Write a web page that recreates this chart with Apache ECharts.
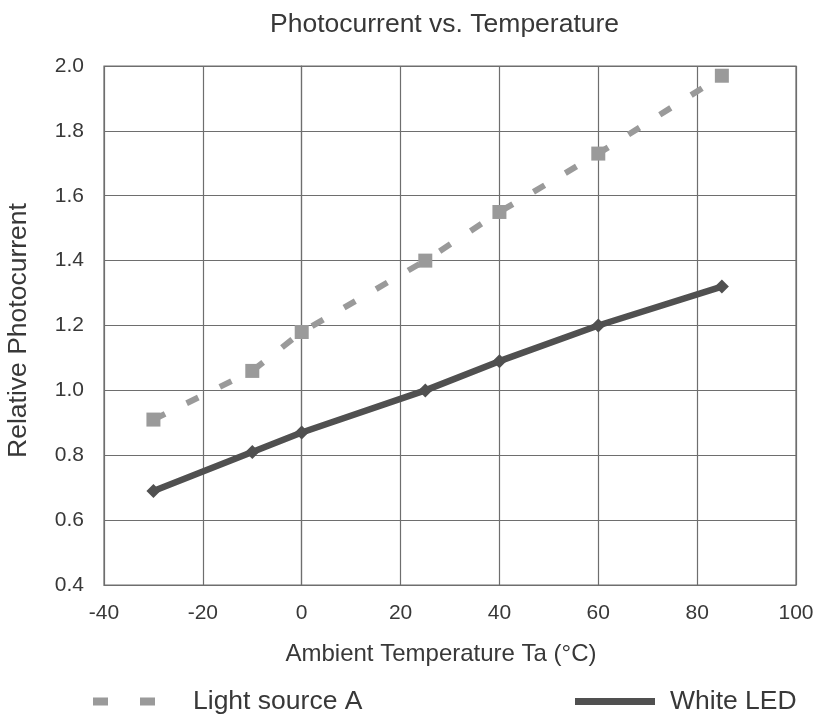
<!DOCTYPE html>
<html>
<head>
<meta charset="utf-8">
<script src="https://cdn.jsdelivr.net/npm/echarts@6/dist/echarts.min.js"></script>
<style>html,body{margin:0;padding:0;background:#fff}#c{width:815px;height:716px}</style>
</head>
<body>
<div id="c"></div>
<script>
const temps = [-30, -10, 0, 25, 40, 60, 85];
const lightSourceA = [0.91, 1.06, 1.18, 1.40, 1.55, 1.73, 1.97];
const whiteLED = [0.69, 0.81, 0.87, 1.00, 1.09, 1.20, 1.32];
const seriesNames = ['Light source A', 'White LED'];
const titleText = 'Photocurrent vs. Temperature';
const xName = 'Ambient Temperature Ta (\u00b0C)';
const yName = 'Relative Photocurrent';

const font = 'Liberation Sans, Arial, sans-serif';
const txt = '#383838';
const gridCol = '#6e6e6e';

const chart = echarts.init(document.getElementById('c'));
chart.setOption({
  animation: false,
  backgroundColor: '#fff',
  title: {
    text: titleText, left: 265, top: 6,
    textStyle: { fontFamily: font, fontSize: 26.5, fontWeight: 'normal', color: txt }
  },
  grid: { left: 104, right: 19, top: 66, bottom: 131, show: true, borderColor: gridCol, borderWidth: 1.2, outerBoundsMode: 'none', containLabel: false },
  legend: [
    {
      left: 88, top: 683, itemWidth: 62, itemHeight: 8,
      data: [{ name: seriesNames[0], icon: 'path://M0,0H15V8H0Z M47,0H62V8H47Z', itemStyle: { color: '#9a9a9a', borderWidth: 0 } }],
      textStyle: { fontFamily: font, fontSize: 26.5, color: txt, padding: [0, 0, 0, 33] }
    },
    {
      left: 570, top: 683, itemWidth: 80, itemHeight: 7,
      data: [{ name: seriesNames[1], icon: 'rect', itemStyle: { color: '#505050', borderWidth: 0 } }],
      textStyle: { fontFamily: font, fontSize: 26.5, color: txt, padding: [0, 0, 0, 10] }
    }
  ],
  xAxis: {
    type: 'value', min: -40, max: 100, interval: 20,
    name: xName, nameLocation: 'middle', nameGap: 57,
    nameTextStyle: { fontFamily: font, fontSize: 24, color: txt, padding: [0, 18, 0, 0] },
    axisLine: { show: true, lineStyle: { color: gridCol, width: 1.2 } },
    axisTick: { show: false },
    axisLabel: { fontFamily: font, fontSize: 21, color: txt, margin: 18 },
    splitLine: { show: true, lineStyle: { color: gridCol, width: 1.2 } }
  },
  yAxis: {
    type: 'value', min: 0.4, max: 2.0, interval: 0.2,
    name: yName, nameLocation: 'middle', nameGap: 72, nameRotate: 90,
    nameTextStyle: { fontFamily: font, fontSize: 26.5, color: txt, padding: [0, 10, 0, 0] },
    axisLine: { show: true, lineStyle: { color: gridCol, width: 1.2 } },
    axisTick: { show: false },
    axisLabel: { fontFamily: font, fontSize: 21, color: txt, margin: 20, formatter: v => v.toFixed(1) },
    splitLine: { show: true, lineStyle: { color: gridCol, width: 1.2 } }
  },
  series: [
    {
      name: seriesNames[0], type: 'line',
      data: temps.map((t, i) => [t, lightSourceA[i]]),
      symbol: 'rect', symbolSize: 14,
      itemStyle: { color: '#9a9a9a' },
      lineStyle: { color: '#9a9a9a', width: 6, type: [13, 24] }
    },
    {
      name: seriesNames[1], type: 'line',
      data: temps.map((t, i) => [t, whiteLED[i]]),
      symbol: 'diamond', symbolSize: 14,
      itemStyle: { color: '#505050' },
      lineStyle: { color: '#505050', width: 6.5 }
    }
  ]
});
</script>
</body>
</html>
